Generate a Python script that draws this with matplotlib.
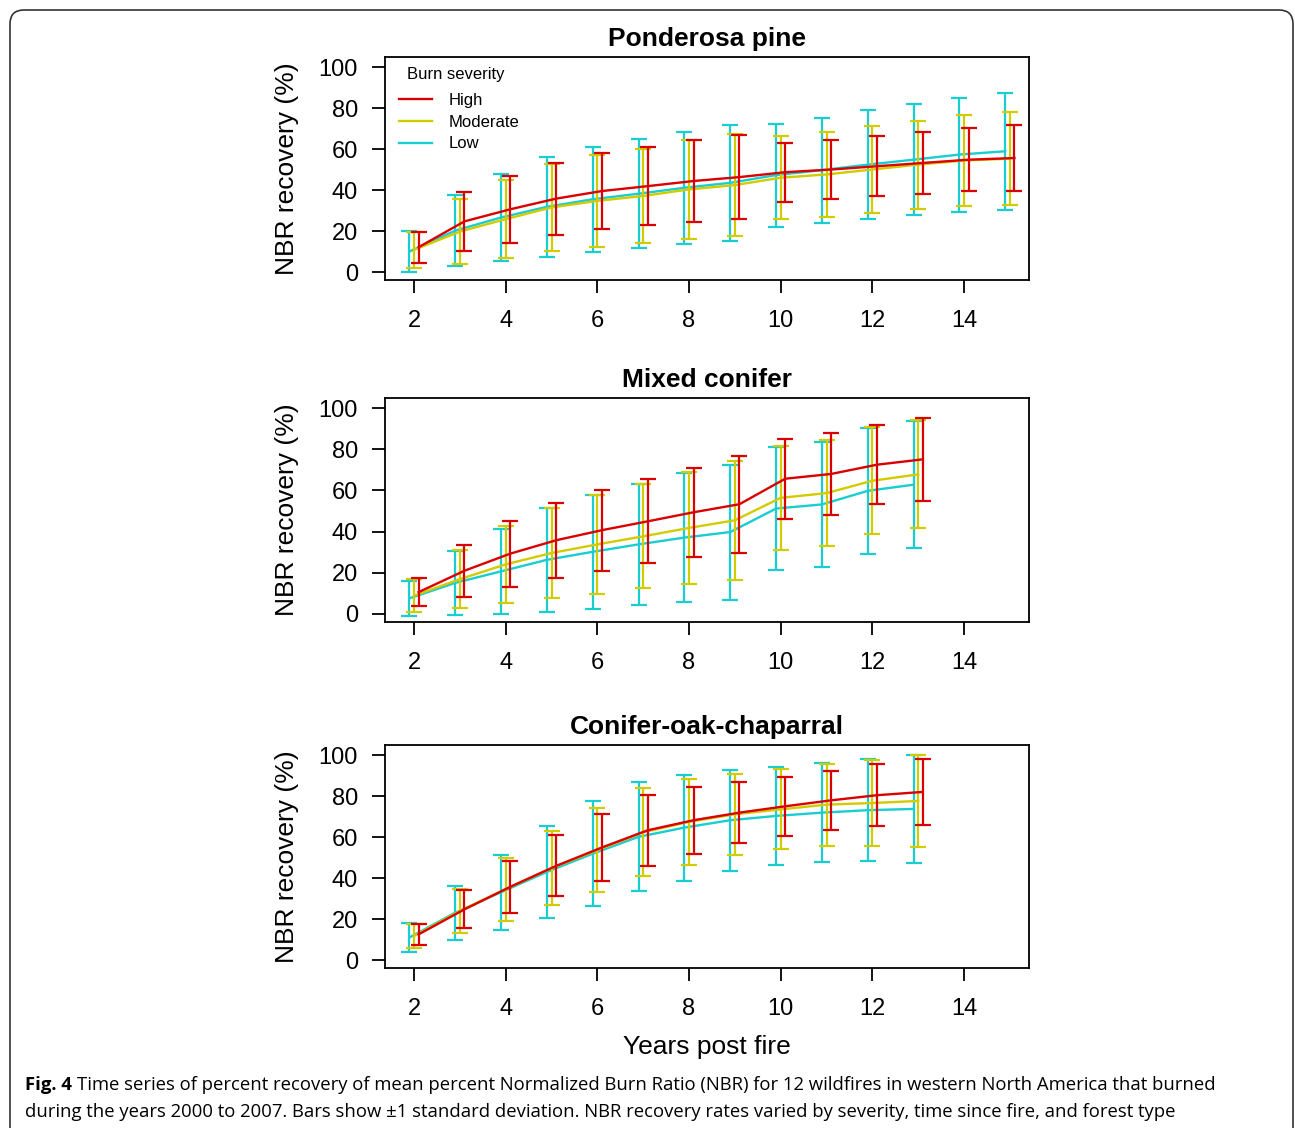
import matplotlib
matplotlib.use("Agg")
import matplotlib.pyplot as plt
import numpy as np
from matplotlib.patches import FancyBboxPatch
from matplotlib.transforms import IdentityTransform

plt.rcParams['font.family'] = ['Liberation Sans', 'DejaVu Sans']

# years post fire
years_pp = np.arange(2, 16)
years_mc = np.arange(2, 14)
years_co = np.arange(2, 14)

# Ponderosa pine: mean NBR recovery and SD
pp_high = [12.1, 24.7, 30.6, 35.8, 39.5, 41.9, 44.4, 46.3, 48.7, 50.0, 51.6, 53.2, 54.8, 55.6]
pp_high_sd = [7.5, 14.3, 16.4, 17.6, 18.7, 19.0, 19.8, 20.4, 14.4, 14.4, 14.7, 14.9, 15.5, 16.2]
pp_mod = [10.8, 19.7, 25.8, 31.5, 34.7, 37.1, 40.3, 42.4, 46.0, 47.6, 50.0, 52.4, 54.4, 55.3]
pp_mod_sd = [8.9, 16.0, 19.2, 21.3, 22.5, 23.0, 24.1, 24.8, 20.2, 20.6, 21.2, 21.5, 22.2, 22.7]
pp_low = [10.0, 20.2, 26.6, 31.8, 35.5, 38.2, 41.1, 43.5, 47.3, 49.7, 52.4, 54.8, 57.3, 58.9]
pp_low_sd = [9.9, 17.4, 21.3, 24.3, 25.6, 26.6, 27.4, 28.4, 25.1, 25.6, 26.6, 27.1, 27.8, 28.6]

# Mixed conifer
mc_high = [10.6, 21.0, 29.3, 35.8, 40.7, 45.0, 49.4, 53.3, 65.7, 68.0, 72.5, 75.1]
mc_high_sd = [6.9, 12.7, 16.0, 18.3, 19.6, 20.4, 21.7, 23.6, 19.4, 20.0, 19.3, 20.0]
mc_mod = [8.9, 16.9, 24.1, 29.6, 33.8, 37.7, 41.8, 45.5, 56.4, 58.7, 64.7, 67.8]
mc_mod_sd = [7.9, 14.1, 18.6, 22.0, 24.0, 25.3, 27.2, 28.9, 25.1, 25.8, 26.0, 26.2]
mc_low = [7.6, 15.1, 20.7, 26.3, 30.2, 33.8, 37.1, 39.8, 51.2, 53.2, 59.8, 62.8]
mc_low_sd = [8.5, 15.4, 20.8, 25.4, 27.8, 29.3, 31.2, 32.8, 29.9, 30.4, 30.6, 30.8]

# Conifer-oak-chaparral
co_high = [12.5, 24.7, 35.7, 45.9, 54.9, 63.3, 68.2, 71.9, 75.0, 77.9, 80.4, 82.0]
co_high_sd = [5.0, 9.3, 12.6, 14.9, 16.5, 17.4, 16.3, 14.8, 14.3, 14.4, 15.0, 16.0]
co_mod = [11.7, 23.9, 34.6, 44.8, 53.6, 62.3, 67.4, 71.1, 73.5, 75.8, 76.6, 77.6]
co_mod_sd = [5.9, 10.9, 15.4, 18.1, 20.5, 21.5, 21.0, 19.8, 19.5, 20.0, 21.1, 22.5]
co_low = [11.0, 23.1, 33.1, 43.0, 51.9, 60.1, 64.6, 68.2, 70.3, 71.9, 73.1, 73.7]
co_low_sd = [7.2, 13.2, 18.3, 22.6, 25.5, 26.6, 25.9, 24.7, 24.1, 24.1, 24.8, 26.4]

titles = ['Ponderosa pine', 'Mixed conifer', 'Conifer-oak-chaparral']
severities = ['High', 'Moderate', 'Low']
colors = {'High': '#DA0000', 'Moderate': '#D2CB00', 'Low': '#19CDD0'}
offsets = {'High': 0.1, 'Moderate': 0.0, 'Low': -0.1}

panels = [
    (years_pp, {'High': (pp_high, pp_high_sd), 'Moderate': (pp_mod, pp_mod_sd), 'Low': (pp_low, pp_low_sd)}),
    (years_mc, {'High': (mc_high, mc_high_sd), 'Moderate': (mc_mod, mc_mod_sd), 'Low': (mc_low, mc_low_sd)}),
    (years_co, {'High': (co_high, co_high_sd), 'Moderate': (co_mod, co_mod_sd), 'Low': (co_low, co_low_sd)}),
]

W, H = 1295, 1128
fig = plt.figure(figsize=(W / 100, H / 100), dpi=100)

# box tops/bottoms in pixels
boxes = [(57, 280), (398, 622), (745, 968)]
left_px, right_px = 385, 1029

for i, ((years, series), (top, bot)) in enumerate(zip(panels, boxes)):
    ax = fig.add_axes([left_px / W, 1 - bot / H, (right_px - left_px) / W, (bot - top) / H])
    for sev in ['Low', 'Moderate', 'High']:
        mean, sd = series[sev]
        x = years + offsets[sev]
        ax.errorbar(x, mean, yerr=sd, fmt='none', ecolor=colors[sev],
                    elinewidth=1.6, capsize=5.5, capthick=1.6)
        ax.plot(x, mean, color=colors[sev], lw=1.7, label=sev)
    ax.set_xlim(1.367, 15.418)
    ax.set_ylim(-3.9, 104.9)
    ax.set_xticks(np.arange(2, 15, 2))
    ax.set_yticks(np.arange(0, 101, 20))
    for s in ax.spines.values():
        s.set_linewidth(1.3)
    ax.tick_params(axis='both', direction='out', length=9.5, width=1.3, labelsize=17)
    ax.tick_params(axis='y', pad=10)
    ax.tick_params(axis='x', pad=12)
    ax.set_ylabel('NBR recovery (%)', fontsize=19, labelpad=14)
    ax.set_title(titles[i], fontsize=19, fontweight='bold', pad=8)
    if i == 0:
        h = (bot - top)
        ax.text(22 / 644, (280 - 75) / h, 'Burn severity', transform=ax.transAxes,
                fontsize=12, va='center', ha='left')
        handles, labels = ax.get_legend_handles_labels()
        order = [labels.index(s) for s in severities]
        ax.legend([handles[k] for k in order], severities, loc='upper left',
                  bbox_to_anchor=(14 / 644, (280 - 93) / h), frameon=False,
                  fontsize=12, borderpad=0, borderaxespad=0, handlelength=2.0,
                  handletextpad=0.95, labelspacing=0.4)
    if i == 2:
        ax.set_xlabel('Years post fire', fontsize=19, labelpad=11)

# rounded frame around figure (bottom edge falls outside the image)
frame = FancyBboxPatch((10, -40), 1283, H - 10 + 40,
                       boxstyle='round,pad=0,rounding_size=14',
                       transform=IdentityTransform(), fill=False,
                       edgecolor='#333333', linewidth=1.2)
fig.patches.append(frame)

cap_font = ['Open Sans', 'DejaVu Sans']
cap_size = 13.3
t1 = fig.text(25 / W, 1 - 1085 / H, 'Fig. 4', fontsize=cap_size, fontweight='bold',
              family=cap_font, va='center', ha='left')
fig.canvas.draw()
bb = t1.get_window_extent()
fig.text((bb.x1 + 5) / W, 1 - 1085 / H,
         'Time series of percent recovery of mean percent Normalized Burn Ratio (NBR) '
         'for 12 wildfires in western North America that burned',
         fontsize=cap_size, family=cap_font, va='center', ha='left')
fig.text(25 / W, 1 - 1112 / H,
         'during the years 2000 to 2007. Bars show \u00b11 standard deviation. NBR recovery '
         'rates varied by severity, time since fire, and forest type',
         fontsize=cap_size, family=cap_font, va='center', ha='left')

fig.savefig('out.png', dpi=100)
